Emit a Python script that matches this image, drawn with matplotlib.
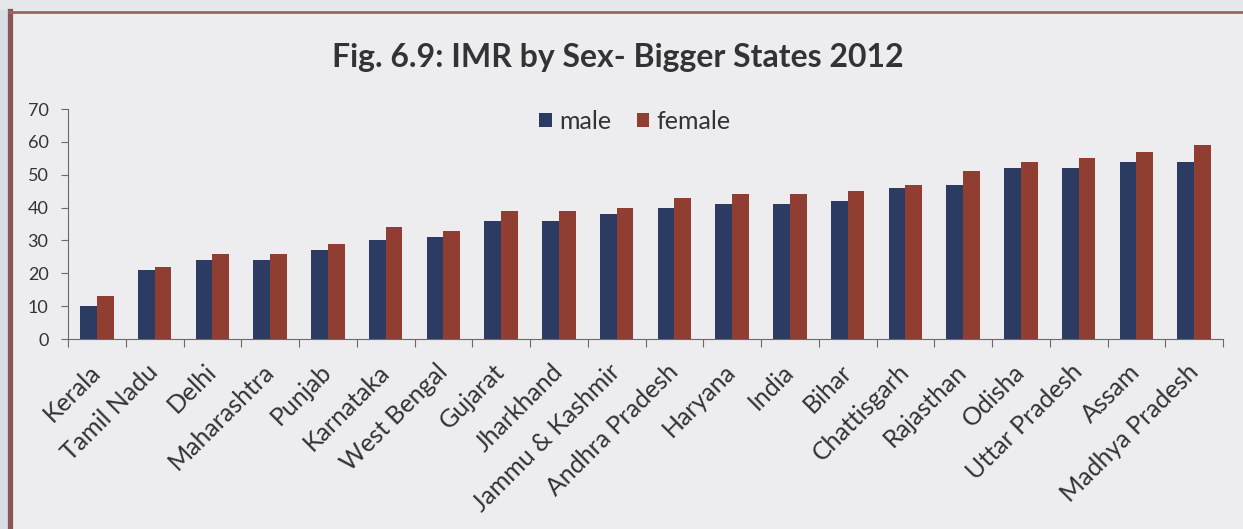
import matplotlib.pyplot as plt
import numpy as np
from matplotlib.patches import Rectangle
from matplotlib.lines import Line2D

states = [
    "Kerala", "Tamil Nadu", "Delhi", "Maharashtra", "Punjab", "Karnataka",
    "West Bengal", "Gujarat", "Jharkhand", "Jammu & Kashmir", "Andhra Pradesh",
    "Haryana", "India", "Bihar", "Chattisgarh", "Rajasthan", "Odisha",
    "Uttar Pradesh", "Assam", "Madhya Pradesh",
]
male = [10, 21, 24, 24, 27, 30, 31, 36, 36, 38, 40, 41, 41, 42, 46, 47, 52, 52, 54, 54]
female = [13, 22, 26, 26, 29, 34, 33, 39, 39, 40, 43, 44, 44, 45, 47, 51, 54, 55, 57, 59]
yticks = [0, 10, 20, 30, 40, 50, 60, 70]

MALE_COLOR = "#2c3b62"
FEMALE_COLOR = "#8f3e31"
TEXT_COLOR = "#333333"
AXIS_COLOR = "#6a6a6a"

plt.rcParams["font.family"] = ["Lato", "DejaVu Sans"]

fig = plt.figure(figsize=(12.43, 5.29), dpi=100)
fig.patch.set_facecolor("#ededef")

# page edge outside the frame and the brown frame itself
fig.add_artist(Rectangle((0, 0), 9 / 1243, 1, transform=fig.transFigure,
                         facecolor="#d9dee6", edgecolor="none"))
fig.add_artist(Rectangle((0, 1 - 10 / 529), 1, 10 / 529, transform=fig.transFigure,
                         facecolor="#e6e7eb", edgecolor="none"))
fig.add_artist(Line2D([10.5 / 1243, 10.5 / 1243], [0, 1 - 11 / 529], transform=fig.transFigure,
                      color="#8a5552", linewidth=3.8))
fig.add_artist(Line2D([9 / 1243, 1], [1 - 11.5 / 529, 1 - 11.5 / 529], transform=fig.transFigure,
                      color="#9a6462", linewidth=2))

ax = fig.add_axes([68 / 1243, 1 - 339 / 529, (1223 - 68) / 1243, (339 - 109) / 529])
ax.set_facecolor("none")

x = np.arange(len(states))
width = 0.29
ax.bar(x - width / 2, male, width, color=MALE_COLOR, label="male")
ax.bar(x + width / 2, female, width, color=FEMALE_COLOR, label="female")

ax.set_xlim(-0.5, len(states) - 0.5)
ax.set_ylim(0, 70)
ax.set_yticks(yticks)
ax.tick_params(axis="y", direction="out", length=5, colors=AXIS_COLOR, labelcolor=TEXT_COLOR,
               labelsize=13, pad=9)

# Excel style: tick marks between categories, labels under the centres
ax.set_xticks(np.arange(len(states) + 1) - 0.5)
ax.set_xticklabels([])
ax.tick_params(axis="x", which="major", direction="out", length=6, colors=AXIS_COLOR)
ax.set_xticks(x, minor=True)
ax.set_xticklabels(states, minor=True, rotation=45, ha="right", va="center",
                   rotation_mode="anchor", fontsize=18, color=TEXT_COLOR)
ax.tick_params(axis="x", which="minor", length=0, pad=21)

for side in ["top", "right"]:
    ax.spines[side].set_visible(False)
ax.spines["left"].set_color(AXIS_COLOR)
ax.spines["bottom"].set_color(AXIS_COLOR)

ax.legend(loc="center", bbox_to_anchor=(0.491, 0.945), ncol=2, frameon=False, fontsize=18,
          handlelength=0.5, handleheight=0.5, handletextpad=0.3, columnspacing=1.0,
          labelcolor=TEXT_COLOR)

fig.text(0.497, 1 - 58 / 529, "Fig. 6.9: IMR by Sex- Bigger States 2012", ha="center",
         va="center", fontsize=23, fontweight="bold", color="#333333")

fig.savefig("out.png", dpi=100, facecolor=fig.get_facecolor())
